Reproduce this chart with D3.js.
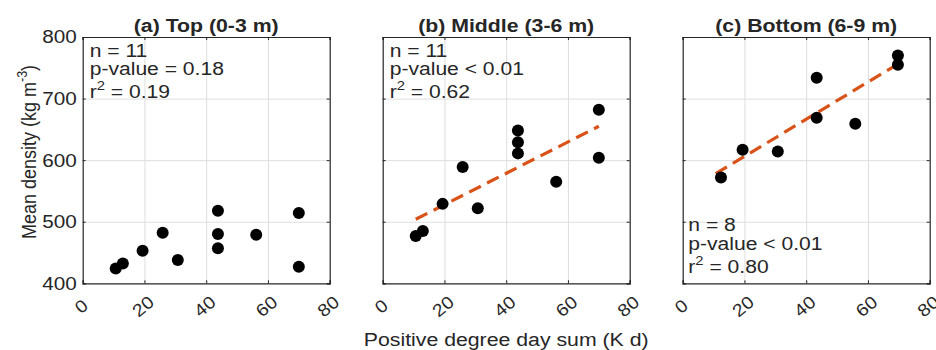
<!DOCTYPE html>
<html>
<head>
<meta charset="utf-8">
<script src="https://cdn.jsdelivr.net/npm/d3@7"></script>
<style>
  body { margin: 0; background: #fff; }
  text { font-family: "Liberation Sans", Arial, sans-serif; fill: #262626; }
</style>
</head>
<body>
<div id="chart"></div>
<script>
// chart data
var xTicks = [0, 20, 40, 60, 80];
var yTicks = [400, 500, 600, 700, 800];
var panelTitles = ["(a) Top (0-3 m)", "(b) Middle (3-6 m)", "(c) Bottom (6-9 m)"];

var topX = [10.7, 13.0, 19.4, 25.9, 30.8, 43.8, 43.8, 43.8, 56.2, 70, 70];
var topY = [424, 432, 453, 482, 438, 518, 480, 457, 479, 514, 427];

var midX = [10.7, 13.0, 19.4, 25.9, 30.8, 43.8, 43.8, 43.8, 56.2, 70, 70];
var midY = [477, 485, 529, 589, 522, 648, 629, 611, 565, 682, 604];

var botX = [12.4, 19.4, 30.8, 43.4, 43.4, 55.9, 69.7, 69.7];
var botY = [572, 617, 614, 734, 669, 659, 770, 755];

// fitted trend lines (end points), none for the top layer
var midFitX = [10.7, 70];
var midFitY = [504, 655];
var botFitX = [10.7, 70];
var botFitY = [578, 757];

var nVals = ["11", "11", "8"];
var pVals = ["= 0.18", "< 0.01", "< 0.01"];
var r2Vals = ["0.19", "0.62", "0.80"];

var svgWidth = 936;
var svgHeight = 350;

// panel geometry
var panelLeft = [82.7, 382.7, 682.7];
var panelTop = 37;
var panelW = 247;
var panelH = 246.3;
var sx = 1.12; // the source picture is a bit wider than tall

var svg = d3.select("#chart")
  .append("svg")
  .attr("width", svgWidth)
  .attr("height", svgHeight);

var xScale = d3.scaleLinear().domain([0, 80]).range([0, panelW]);
var yScale = d3.scaleLinear().domain([400, 800]).range([panelH, 0]);

function drawPanel(i, xs, ys, fitX, fitY) {
  var g = svg.append("g")
    .attr("transform", "translate(" + panelLeft[i] + "," + panelTop + ")");

  // grid lines
  g.append("g")
    .attr("class", "grid")
    .attr("transform", "translate(0," + panelH + ")")
    .call(d3.axisBottom(xScale).tickValues(xTicks.slice(1, -1)).tickSize(-panelH).tickFormat(""));
  g.append("g")
    .attr("class", "grid")
    .call(d3.axisLeft(yScale).tickValues(yTicks.slice(1, -1)).tickSize(-panelW).tickFormat(""));
  g.selectAll(".grid .domain").remove();
  g.selectAll(".grid line").attr("stroke", "#dedede").attr("stroke-width", 1);

  // bottom axis with rotated labels
  var xAx = g.append("g")
    .attr("transform", "translate(0," + panelH + ")")
    .call(d3.axisBottom(xScale).tickValues(xTicks).tickSize(-3));
  xAx.selectAll("text")
    .attr("y", null)
    .attr("dy", null)
    .attr("dominant-baseline", "central")
    .attr("text-anchor", "middle")
    .attr("font-size", 17.5)
    .attr("transform", "translate(-2,23) rotate(-40) scale(" + sx + ",1)");

  // left axis, labels only on first panel
  var yAxis = d3.axisLeft(yScale).tickValues(yTicks).tickSize(-3);
  if (i > 0) yAxis.tickFormat("");
  var yAx = g.append("g").call(yAxis);
  yAx.selectAll("text")
    .attr("x", null)
    .attr("font-size", 18.5)
    .attr("transform", "translate(-6,0) scale(" + sx + ",1)");

  // mirrored ticks on top and right
  g.append("g").call(d3.axisTop(xScale).tickValues(xTicks).tickSize(-3).tickFormat(""));
  g.append("g").attr("transform", "translate(" + panelW + ",0)")
    .call(d3.axisRight(yScale).tickValues(yTicks).tickSize(-3).tickFormat(""));

  g.selectAll(".domain, .tick line").filter(function() {
    return !this.parentNode.parentNode.classList.contains("grid") &&
      !this.parentNode.classList.contains("grid");
  }).attr("stroke", "#262626");
  g.selectAll("path.domain").attr("stroke-width", 1.2);
  g.selectAll(".tick text").attr("fill", "#262626");

  // trend line
  if (fitX) {
    g.append("line")
      .attr("x1", xScale(fitX[0]))
      .attr("y1", yScale(fitY[0]))
      .attr("x2", xScale(fitX[1]))
      .attr("y2", yScale(fitY[1]))
      .attr("stroke", "#D95319")
      .attr("stroke-width", 3.2)
      .attr("stroke-dasharray", "13,7");
  }

  // points
  g.selectAll("circle")
    .data(xs)
    .enter()
    .append("circle")
    .attr("cx", function(d) { return xScale(d); })
    .attr("cy", function(d, j) { return yScale(ys[j]); })
    .attr("r", 6)
    .attr("fill", "#000");

  // title
  g.append("text")
    .attr("text-anchor", "middle")
    .attr("font-size", 19)
    .attr("font-weight", "bold")
    .attr("fill", "#000")
    .attr("transform", "translate(" + (panelW / 2) + "," + (-5) + ") scale(" + sx + ",1)")
    .text(panelTitles[i]);

  // stats text
  var base = i < 2 ? [20, 38, 61] : [panelH - 52, panelH - 33, panelH - 10];
  var lx = i < 2 ? 7 : 5.6;
  var lines = ["n = " + nVals[i], "p-value " + pVals[i]];
  lines.forEach(function(s, k) {
    g.append("text")
      .attr("font-size", 18.5)
      .attr("transform", "translate(" + lx + "," + base[k] + ") scale(" + (sx + 0.02) + ",1)")
      .text(s);
  });
  var r2 = g.append("text")
    .attr("font-size", 18.5)
    .attr("transform", "translate(" + lx + "," + base[2] + ") scale(" + (sx + 0.02) + ",1)");
  r2.append("tspan").text("r");
  r2.append("tspan").attr("font-size", 13).attr("dy", -8).text("2");
  r2.append("tspan").attr("dy", 8).text(" = " + r2Vals[i]);
}

drawPanel(0, topX, topY, null, null);
drawPanel(1, midX, midY, midFitX, midFitY);
drawPanel(2, botX, botY, botFitX, botFitY);

// axis labels
var yLab = svg.append("text")
  .attr("text-anchor", "middle")
  .attr("font-size", 18)
  .attr("transform", "translate(36,152) rotate(-90) scale(1," + sx + ")");
yLab.append("tspan").text("Mean density (kg m");
yLab.append("tspan").attr("font-size", 12.5).attr("dy", -8).text("-3");
yLab.append("tspan").attr("dy", 8).text(")");

svg.append("text")
  .attr("text-anchor", "middle")
  .attr("font-size", 19)
  .attr("transform", "translate(" + (panelLeft[1] + panelW / 2) + ",346) scale(" + sx + ",1)")
  .text("Positive degree day sum (K d)");
</script>
</body>
</html>
